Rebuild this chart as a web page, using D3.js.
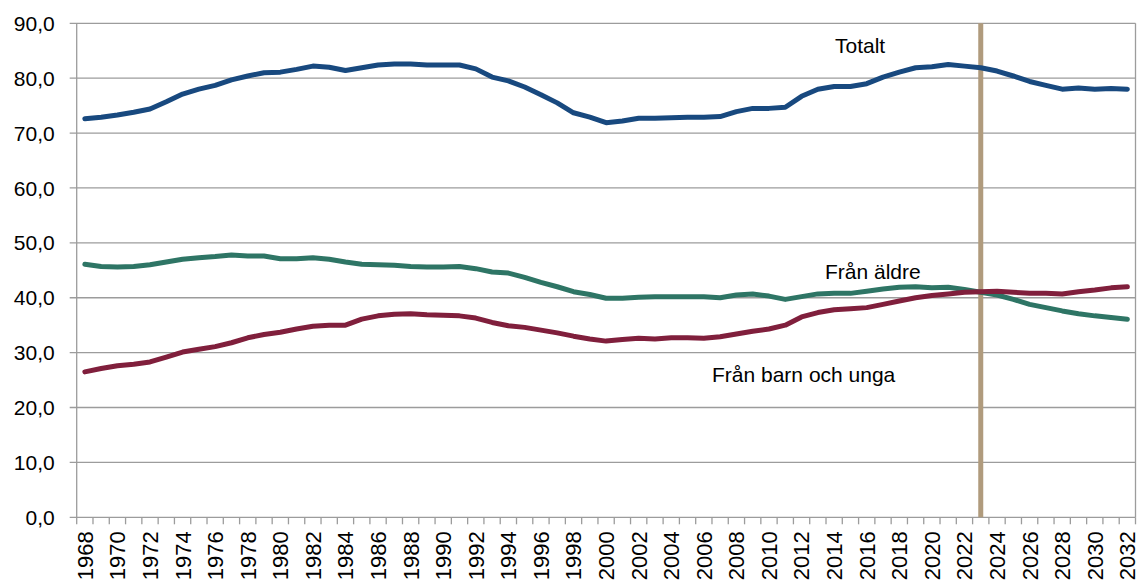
<!DOCTYPE html>
<html>
<head>
<meta charset="utf-8">
<script src="https://cdn.jsdelivr.net/npm/d3@7"></script>
<style>
  body { margin: 0; background: #fff; }
  svg { display: block; font-family: "Liberation Sans", Arial, sans-serif; }
</style>
</head>
<body>
<div id="chart"></div>
<script>
// years 1968..2032
var years = d3.range(1968, 2033);

var totalt = [72.6, 72.9, 73.3, 73.8, 74.4, 75.7, 77.1, 78.0, 78.7, 79.7,
  80.4, 81.0, 81.1, 81.6, 82.2, 82.0, 81.4, 81.9, 82.4, 82.6,
  82.6, 82.4, 82.4, 82.4, 81.7, 80.2, 79.5, 78.4, 77.0, 75.5,
  73.7, 72.9, 71.9, 72.2, 72.7, 72.7, 72.8, 72.9, 72.9, 73.0,
  73.9, 74.5, 74.5, 74.7, 76.7, 78.0, 78.5, 78.5, 79.0, 80.2,
  81.1, 81.9, 82.1, 82.5, 82.2, 81.9, 81.3, 80.4, 79.4, 78.7,
  78.0, 78.2, 78.0, 78.1, 78.0];

var franAldre = [46.1, 45.7, 45.6, 45.7, 46.0, 46.5, 47.0, 47.3, 47.5, 47.8,
  47.6, 47.6, 47.1, 47.1, 47.3, 47.0, 46.5, 46.1, 46.0, 45.9,
  45.7, 45.6, 45.6, 45.7, 45.3, 44.7, 44.5, 43.7, 42.8, 42.0,
  41.1, 40.6, 39.9, 39.9, 40.1, 40.2, 40.2, 40.2, 40.2, 40.0,
  40.5, 40.7, 40.3, 39.7, 40.2, 40.7, 40.8, 40.8, 41.2, 41.6,
  41.9, 42.0, 41.8, 41.9, 41.5, 41.0, 40.5, 39.7, 38.8, 38.2,
  37.6, 37.1, 36.7, 36.4, 36.1];

var franBarn = [26.5, 27.1, 27.6, 27.9, 28.3, 29.2, 30.1, 30.6, 31.1, 31.8,
  32.7, 33.3, 33.7, 34.3, 34.8, 35.0, 35.0, 36.1, 36.7, 37.0,
  37.1, 36.9, 36.8, 36.7, 36.3, 35.5, 34.9, 34.6, 34.1, 33.6,
  33.0, 32.5, 32.1, 32.4, 32.6, 32.5, 32.7, 32.7, 32.6, 32.9,
  33.4, 33.9, 34.3, 35.0, 36.5, 37.3, 37.8, 38.0, 38.2, 38.8,
  39.4, 40.0, 40.4, 40.7, 41.0, 41.1, 41.2, 41.0, 40.8, 40.8,
  40.7, 41.1, 41.4, 41.8, 42.0];

var yTicks = d3.range(0, 91, 10);
var markerYear = 2023;

var series = [
  { name: "Totalt", values: totalt, color: "#18497f", label: [835, 52.5] },
  { name: "Från äldre", values: franAldre, color: "#2e7565", label: [825, 279] },
  { name: "Från barn och unga", values: franBarn, color: "#801f3c", label: [712, 381.5] }
];

var W = 1142, H = 585;
var plotLeft = 76.7, plotRight = 1135.5, plotTop = 23.3, plotBottom = 517.3;

var svg = d3.select("#chart").append("svg")
    .attr("width", W)
    .attr("height", H);

var x = d3.scaleBand().domain(years).range([plotLeft, plotRight]).padding(0);
var cx = function(yr) { return x(yr) + x.bandwidth() / 2; };
var y = d3.scaleLinear().domain([0, 90]).range([plotBottom, plotTop]);

var grid = "#9c9c9c";

// horizontal gridlines + y ticks
svg.append("g").selectAll("line")
    .data(yTicks)
    .enter().append("line")
    .attr("x1", plotLeft - 7)
    .attr("x2", plotRight)
    .attr("y1", function(d) { return y(d); })
    .attr("y2", function(d) { return y(d); })
    .attr("stroke", grid)
    .attr("stroke-width", 1.3);

// y labels
svg.append("g").selectAll("text")
    .data(yTicks)
    .enter().append("text")
    .attr("x", plotLeft - 22)
    .attr("y", function(d) { return y(d); })
    .attr("dy", "0.36em")
    .attr("text-anchor", "end")
    .attr("font-size", 21)
    .text(function(d) { return d3.format(".1f")(d).replace(".", ","); });

// left axis and right border
svg.append("line")
    .attr("x1", plotLeft).attr("x2", plotLeft)
    .attr("y1", plotTop).attr("y2", plotBottom)
    .attr("stroke", grid).attr("stroke-width", 1.3);
svg.append("line")
    .attr("x1", plotRight).attr("x2", plotRight)
    .attr("y1", plotTop).attr("y2", plotBottom)
    .attr("stroke", grid).attr("stroke-width", 1.3);

// x ticks at category boundaries
var bounds = years.map(function(yr) { return x(yr); }).concat([plotRight]);
svg.append("g").selectAll("line")
    .data(bounds)
    .enter().append("line")
    .attr("x1", function(d) { return d; })
    .attr("x2", function(d) { return d; })
    .attr("y1", plotBottom)
    .attr("y2", plotBottom + 7)
    .attr("stroke", grid)
    .attr("stroke-width", 1.3);

// x labels, every second year
svg.append("g").selectAll("text")
    .data(years.filter(function(d) { return (d - 1968) % 2 === 0; }))
    .enter().append("text")
    .attr("transform", function(d) { return "translate(" + cx(d) + "," + (plotBottom + 14) + ") rotate(-90)"; })
    .attr("dy", "0.36em")
    .attr("text-anchor", "end")
    .attr("font-size", 22)
    .text(function(d) { return d; });

// marker for 2023
svg.append("line")
    .attr("x1", cx(markerYear)).attr("x2", cx(markerYear))
    .attr("y1", plotTop).attr("y2", plotBottom)
    .attr("stroke", "#b09b7d")
    .attr("stroke-width", 5);

var line = d3.line()
    .x(function(d, i) { return cx(years[i]); })
    .y(function(d) { return y(d); });

svg.append("g").selectAll("path")
    .data(series)
    .enter().append("path")
    .attr("d", function(d) { return line(d.values); })
    .attr("fill", "none")
    .attr("stroke", function(d) { return d.color; })
    .attr("stroke-width", 5)
    .attr("stroke-linejoin", "round")
    .attr("stroke-linecap", "round");

svg.append("g").selectAll("text")
    .data(series)
    .enter().append("text")
    .attr("x", function(d) { return d.label[0]; })
    .attr("y", function(d) { return d.label[1]; })
    .attr("font-size", 21)
    .attr("fill", "#000")
    .text(function(d) { return d.name; });
</script>
</body>
</html>
